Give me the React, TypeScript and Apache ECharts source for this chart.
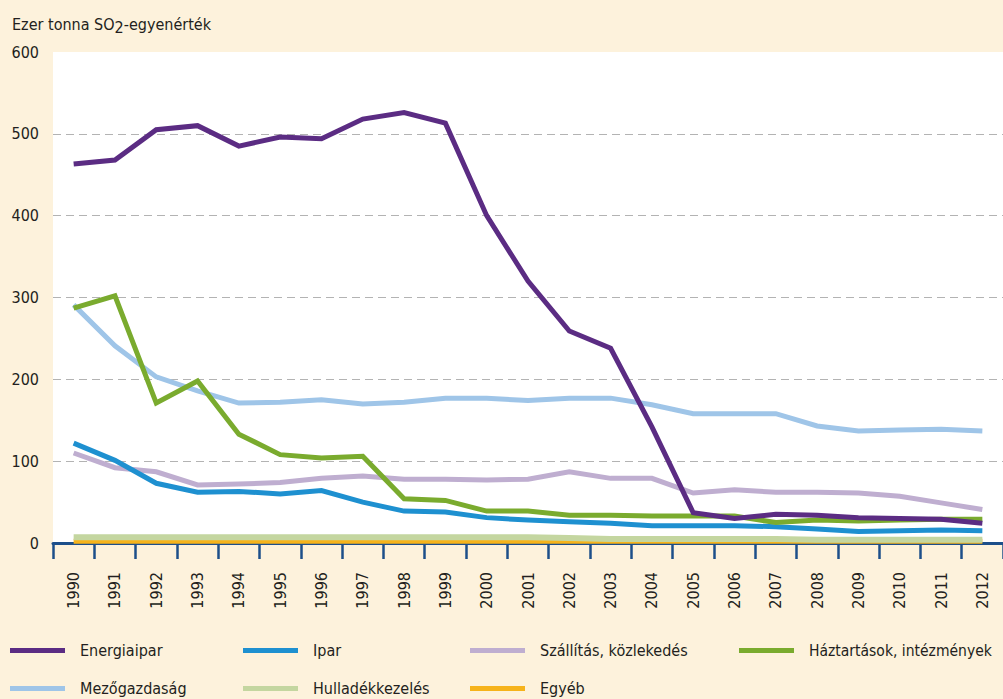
import React, { useEffect, useRef } from "react";
import * as echarts from "echarts";

const years = ["1990","1991","1992","1993","1994","1995","1996","1997","1998","1999","2000","2001","2002","2003","2004","2005","2006","2007","2008","2009","2010","2011","2012"];

const energiaipar = [463,468,505,510,485,496,494,518,526,513,400,320,259,238,142,37,30,35,34,31,30,29,24];
const ipar = [122,101,73,62,63,60,64,50,39,38,31,28,26,24,21,21,21,20,17,14,15,16,15];
const szallitas = [110,92,87,71,72,74,79,82,78,78,77,78,87,79,79,61,65,62,62,61,57,49,41];
const haztartasok = [287,302,171,198,133,108,104,106,54,52,39,39,34,34,33,33,33,25,28,27,28,29,29];
const mezogazdasag = [291,241,203,186,171,172,175,170,172,177,177,174,177,177,169,158,158,158,143,137,138,139,137];
const hulladek = [7,7,7,7,7,7,7,7,7,7,7,7,6,5,5,5,5,5,4,4,4,4,4];
const egyeb = [2,2,2,2,2,2,2,2,2,2,2,2,2,2,2,2,2,2,2,2,2,2,2];

const yTicks = [0, 100, 200, 300, 400, 500, 600];

const legendColumns = [
  ["Energiaipar", "Mezőgazdaság"],
  ["Ipar", "Hulladékkezelés"],
  ["Szállítás, közlekedés", "Egyéb"],
  ["Háztartások, intézmények"],
];
const legendLeft = [10, 243, 470, 739];

const FONT = '"DejaVu Sans Condensed", "Liberation Sans Narrow", sans-serif';
const TXT = "#231f20";
const FS = 16;

export default function App() {
  const ref = useRef<HTMLDivElement>(null);
  useEffect(() => {
    if (!ref.current) return;
    const chart = echarts.init(ref.current, null, { renderer: "svg" });
    const mk = (name: string, data: number[], color: string, width = 5) => ({
      name,
      type: "line",
      data,
      symbol: "none",
      lineStyle: { color, width, cap: "butt", join: "miter" },
      itemStyle: { color },
    });
    chart.setOption({
      animation: false,
      backgroundColor: "#fdf2dc",
      textStyle: { fontFamily: FONT },
      title: {
        text: "Ezer tonna SO{sub|2}-egyenérték",
        left: 12,
        top: 13,
        padding: 0,
        textStyle: {
          fontFamily: FONT,
          fontSize: FS,
          fontWeight: "normal",
          color: TXT,
          rich: {
            sub: { fontFamily: FONT, fontSize: FS, color: TXT, padding: [6, 0, 0, 0] },
          },
        },
      },
      grid: {
        left: 53,
        right: -9,
        top: 52,
        bottom: 156,
        show: true,
        backgroundColor: "#ffffff",
        borderWidth: 0,
      },
      legend: legendColumns.map((col, i) => ({
        left: legendLeft[i],
        top: 638,
        height: 80,
        width: 300,
        padding: 0,
        orient: "vertical",
        icon: "rect",
        itemWidth: 55,
        itemHeight: 5,
        itemGap: 13,
        textStyle: {
          fontFamily: FONT,
          fontSize: i === 3 ? 15.5 : FS,
          color: TXT,
          lineHeight: 25,
          padding: [0, 0, 0, 10],
        },
        data: col,
      })),
      xAxis: {
        type: "category",
        data: years,
        boundaryGap: true,
        axisLine: { lineStyle: { color: "#1d4f8a", width: 3 } },
        axisTick: { show: true, length: 16, lineStyle: { color: "#1d4f8a", width: 2.5 } },
        axisLabel: {
          rotate: 90,
          margin: 29,
          fontFamily: FONT,
          fontSize: FS,
          color: TXT,
          interval: 0,
        },
      },
      yAxis: {
        type: "value",
        min: yTicks[0],
        max: yTicks[yTicks.length - 1],
        interval: 100,
        axisLine: { show: false },
        axisTick: { show: false },
        axisLabel: { fontFamily: FONT, fontSize: FS, color: TXT, margin: 14 },
        splitLine: {
          show: true,
          showMinLine: false,
          showMaxLine: false,
          lineStyle: { color: "#b3b3b3", width: 1.2, type: [8, 5] },
        },
      },
      series: [
        mk("Egyéb", egyeb, "#f6b31b", 5),
        mk("Hulladékkezelés", hulladek, "#c4d6a0", 6),
        mk("Mezőgazdaság", mezogazdasag, "#9fc5e8", 5),
        mk("Szállítás, közlekedés", szallitas, "#bfaed0", 5),
        mk("Ipar", ipar, "#1e90d0", 5),
        mk("Háztartások, intézmények", haztartasok, "#7aab2e", 5),
        mk("Energiaipar", energiaipar, "#5b2c83", 5),
      ],
    });
    return () => chart.dispose();
  }, []);
  return (
    <div
      ref={ref}
      style={{ position: "fixed", left: 0, top: 0, width: 1003, height: 699, background: "#fdf2dc" }}
    />
  );
}
